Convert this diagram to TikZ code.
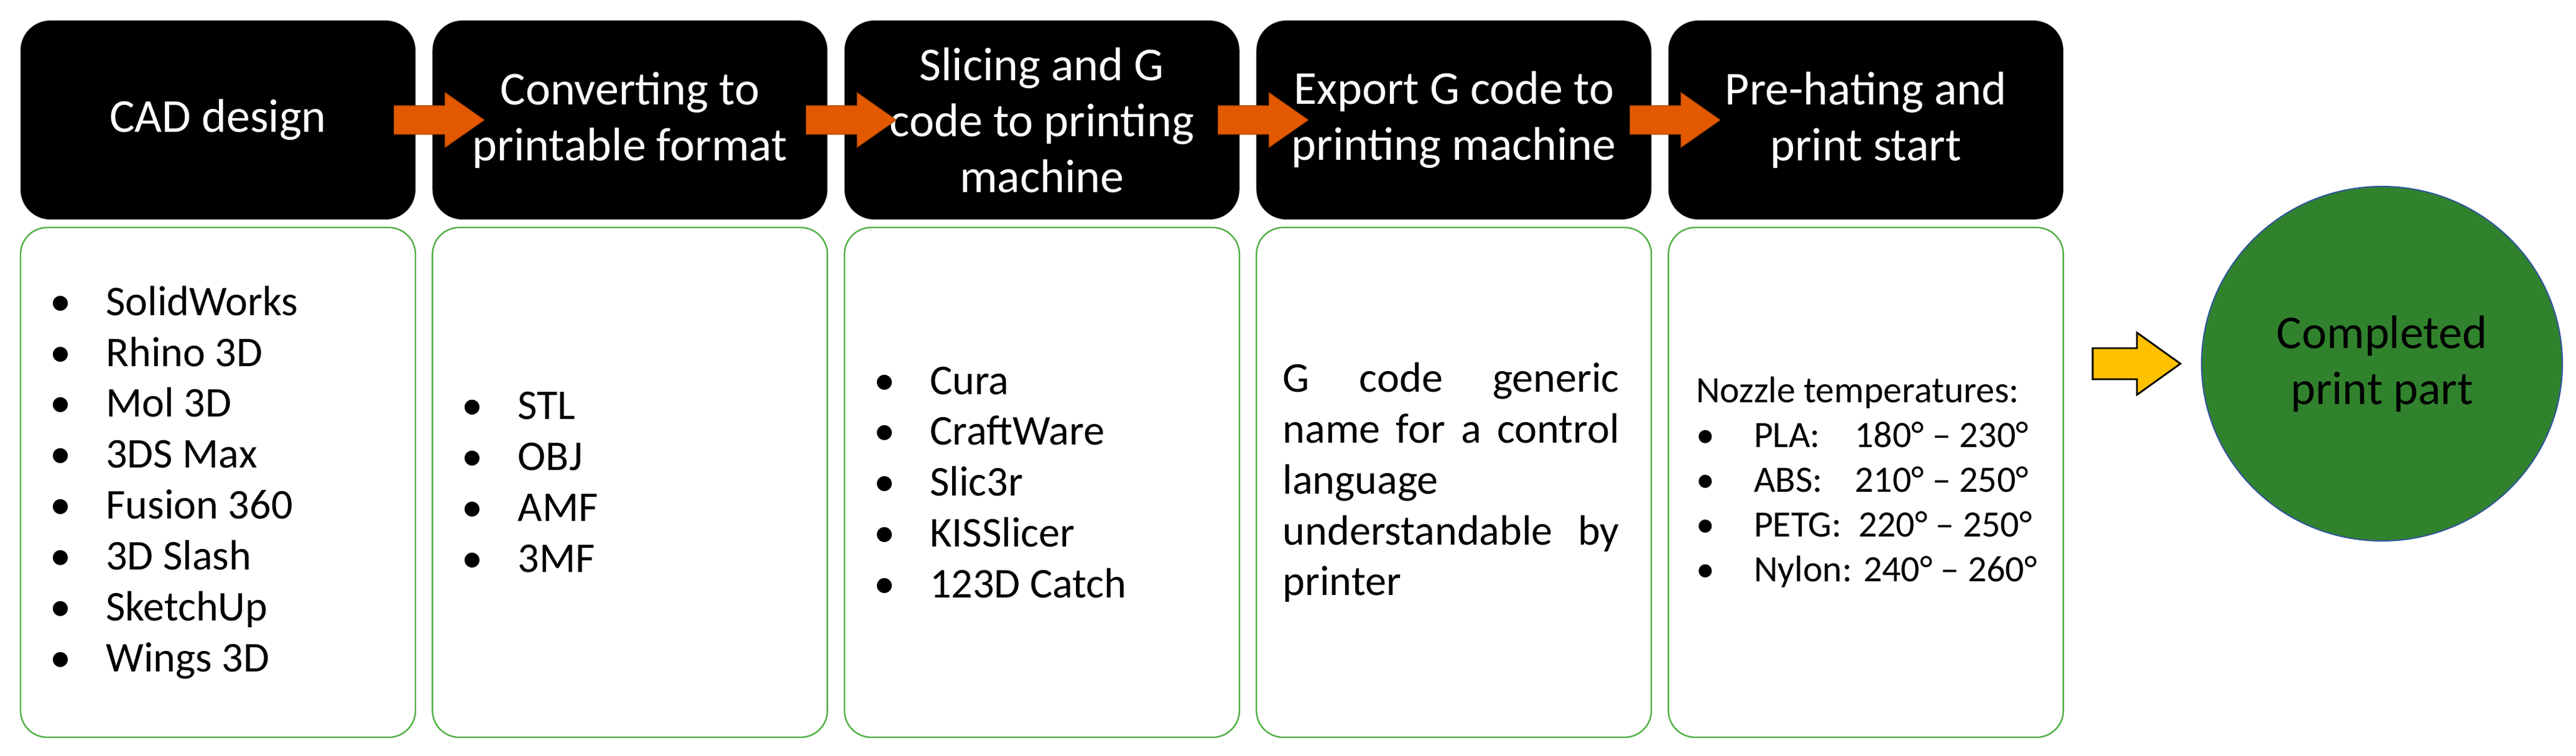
\documentclass[tikz,border=0pt]{standalone}
\usepackage{fontspec}
\setmainfont{Carlito}
\usetikzlibrary{positioning,shapes.geometric,calc}
\definecolor{panelgreen}{RGB}{84,176,72}
\definecolor{floworange}{RGB}{226,89,0}
\definecolor{partgreen}{RGB}{49,130,45}
\definecolor{partblue}{RGB}{47,85,151}
\definecolor{doneyellow}{RGB}{255,192,0}
\newcommand{\spreadline}[1]{\makebox[5.41cm][s]{#1}}
\newcommand{\bul}{\makebox[0.9cm][l]{\textbullet}}
\newcommand{\tbul}{\makebox[0.93cm][l]{\textbullet}}
\newcommand{\matlab}[1]{\makebox[2.72em][l]{#1}}

\begin{document}
\begin{tikzpicture}[
  stage/.style={fill=black, text=white, rounded corners=0.48cm,
    minimum width=6.35cm, minimum height=3.2cm, inner sep=0pt,
    align=center, font=\fontsize{21.6}{25.6}\selectfont},
  panel/.style={draw=panelgreen, line width=0.7pt, rounded corners=0.43cm,
    minimum width=6.35cm, minimum height=8.2cm, inner sep=0pt},
  listtext/.style={anchor=west, align=left, inner sep=0pt,
    font=\fontsize{19.4}{23.3}\selectfont}
]
\useasboundingbox (0,0) rectangle (41.42,12.15);
% Process stages
\node[stage] (h1) at (3.505,10.22) {CAD design};
\node[stage, right=0.26cm of h1] (h2) {Converting to\\printable format};
\node[stage, right=0.26cm of h2] (h3) {Slicing and G\\code to printing\\machine};
\node[stage, right=0.26cm of h3] (h4) {Export G code to\\printing machine};
\node[stage, right=0.26cm of h4] (h5) {Pre-hating and\\print start};
% Detail panels
\foreach \i in {1,...,5} {
  \node[panel, below=0.11cm of h\i] (p\i) {};
}
\node[listtext] (l1) at ($(p1.west)+(0.48,0)$)
  {\bul SolidWorks\\\bul Rhino 3D\\\bul Mol 3D\\\bul 3DS Max\\
   \bul Fusion 360\\\bul 3D Slash\\\bul SketchUp\\\bul Wings 3D};
\node[listtext] (l2) at ($(p2.west)+(0.48,0)$)
  {\bul STL\\\bul OBJ\\\bul AMF\\\bul 3MF};
\node[listtext] (l3) at ($(p3.west)+(0.48,0)$)
  {\bul Cura\\\bul CraftWare\\\bul Slic3r\\\bul KISSlicer\\\bul 123D Catch};
\node[listtext] (l4) at ($(p4.west)+(0.43,0)$)
  {\spreadline{G code generic}\\\spreadline{name for a control}\\language\\
   \spreadline{understandable by}\\printer};
\node[listtext, font=\fontsize{17}{20.5}\selectfont] (l5) at ($(p5.west)+(0.45,0)$)
  {Nozzle temperatures:\\
   \tbul\matlab{PLA:}180° – 230°\\
   \tbul\matlab{ABS:}210° – 250°\\
   \tbul PETG:\ \ 220° – 250°\\
   \tbul Nylon: 240° – 260°};
% Finished part
\node[ellipse, fill=partgreen, draw=partblue, line width=0.6pt,
      minimum width=5.8cm, minimum height=5.7cm, inner sep=0pt, align=center,
      font=\fontsize{21.6}{25.6}\selectfont] (done) at (38.30,6.30)
      {Completed\\print part};
% Block arrows between stages
\foreach \a/\b in {h1/h2,h2/h3,h3/h4,h4/h5} {
  \draw[fill=floworange, draw=floworange!75!black, line width=0.3pt]
    ($(\a.east)+(-0.35,0.23)$) -- ($(\b.west)+(0.21,0.23)$)
    -- ($(\b.west)+(0.21,0.44)$) -- ($(\b.west)+(0.84,0)$)
    -- ($(\b.west)+(0.21,-0.44)$) -- ($(\b.west)+(0.21,-0.23)$)
    -- ($(\a.east)+(-0.35,-0.23)$) -- cycle;
}
\coordinate (yt) at ($(p5.east |- done.west)+(0.46,0)$);
\coordinate (yh) at ($(done.west)+(-0.33,0)$);
\draw[fill=doneyellow, line width=0.8pt]
  ($(yt)+(0,0.25)$) -- ($(yh)+(-0.70,0.25)$) -- ($(yh)+(-0.70,0.50)$)
  -- (yh) -- ($(yh)+(-0.70,-0.50)$) -- ($(yh)+(-0.70,-0.25)$)
  -- ($(yt)+(0,-0.25)$) -- cycle;
\end{tikzpicture}
\end{document}
